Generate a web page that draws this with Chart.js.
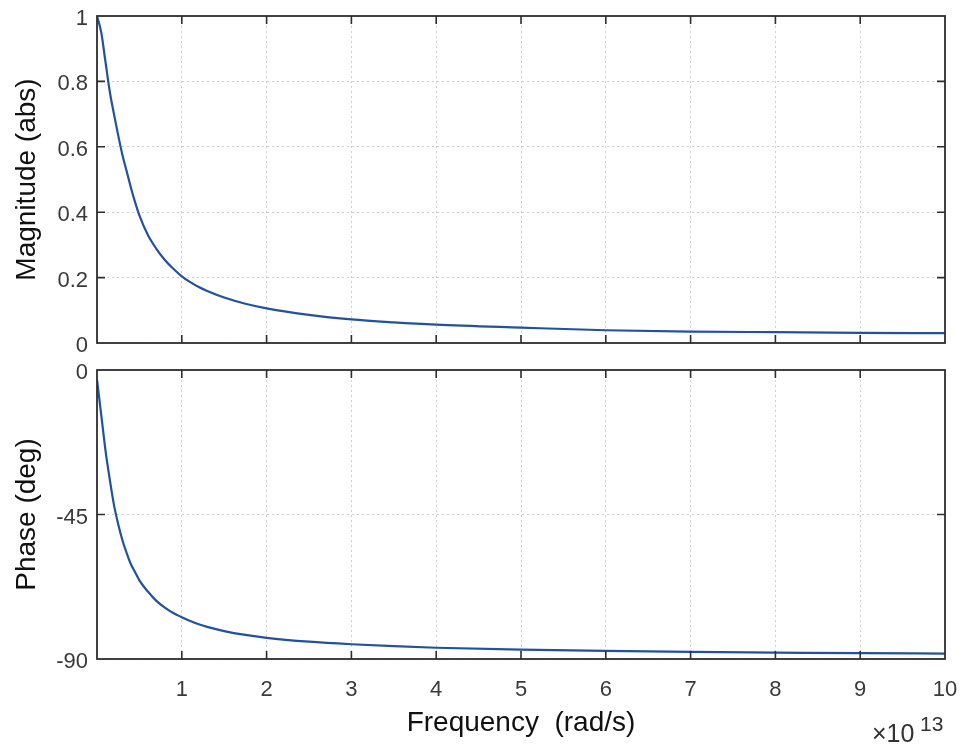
<!DOCTYPE html>
<html>
<head>
<meta charset="utf-8">
<script src="https://cdn.jsdelivr.net/npm/chart.js@4/dist/chart.umd.min.js"></script>
<style>
  html, body { margin: 0; padding: 0; background: #ffffff; }
  #wrap { position: relative; width: 969px; height: 750px; overflow: hidden; background: #fff; }
  #c1 { position: absolute; left: 0; top: 0; }
  #c2 { position: absolute; left: 0; top: 355px; }
  .ex { position: absolute; font-family: "Liberation Sans", Arial, sans-serif; color: #333; line-height: 1; white-space: nowrap; }
  #exBase { left: 872px; top: 721px; font-size: 25px; }
  #exPow { left: 920px; top: 713px; font-size: 21px; }
</style>
</head>
<body>
<div id="wrap">
  <canvas id="c1" width="969" height="355"></canvas>
  <canvas id="c2" width="969" height="395"></canvas>
  <div class="ex" id="exBase">×10</div>
  <div class="ex" id="exPow">13</div>
</div>
<script>
// Frequency in units of 1e13 rad/s
const frequency = [0, 0.05, 0.1, 0.15, 0.2, 0.25, 0.3, 0.35, 0.4, 0.45, 0.5, 0.6, 0.7, 0.8, 0.9, 1.0, 1.1, 1.2, 1.3, 1.5, 1.75, 2, 2.5, 3, 3.5, 4, 5, 6, 7, 8, 9, 10];
// Magnitude (abs)
const magnitude = [1.0, 0.95, 0.86, 0.77, 0.70, 0.635, 0.575, 0.525, 0.475, 0.43, 0.39, 0.33, 0.288, 0.254, 0.227, 0.204, 0.186, 0.171, 0.159, 0.139, 0.12, 0.106, 0.086, 0.072, 0.063, 0.056, 0.047, 0.039, 0.035, 0.033, 0.031, 0.030];
// Phase (deg)
const phase = [-3, -14, -25, -34, -42, -48, -53, -57, -60.5, -63, -65.5, -69, -71.9, -74, -75.7, -77, -78.2, -79.2, -80, -81.3, -82.5, -83.4, -84.6, -85.4, -86, -86.5, -87.1, -87.5, -87.8, -88.0, -88.2, -88.3];
const xTickLabels = ['1', '2', '3', '4', '5', '6', '7', '8', '9', '10'];
const magTicks = [0, 0.2, 0.4, 0.6, 0.8, 1];
const phaseTicks = [-90, -45, 0];

const FONT = '"Liberation Sans", Arial, Helvetica, sans-serif';
const LINE = '#2151a0';
const GRID = '#cfcfcf';
const BOX = '#2e2e2e';

const boxPlugin = {
  id: 'boxTicks',
  afterDatasetsDraw(chart) {
    const { ctx, chartArea: a, scales } = chart;
    ctx.save();
    ctx.strokeStyle = BOX;
    ctx.lineWidth = 1.6;
    ctx.beginPath();
    scales.x.ticks.forEach(t => {
      const px = scales.x.getPixelForValue(t.value);
      if (px <= a.left + 1 || px >= a.right - 1) return;
      ctx.moveTo(px, a.bottom); ctx.lineTo(px, a.bottom - 8);
      ctx.moveTo(px, a.top); ctx.lineTo(px, a.top + 8);
    });
    scales.y.ticks.forEach(t => {
      const py = scales.y.getPixelForValue(t.value);
      if (py <= a.top + 1 || py >= a.bottom - 1) return;
      ctx.moveTo(a.left, py); ctx.lineTo(a.left + 8, py);
      ctx.moveTo(a.right, py); ctx.lineTo(a.right - 8, py);
    });
    ctx.stroke();
    ctx.lineWidth = 1.8;
    ctx.strokeRect(a.left, a.top, a.right - a.left, a.bottom - a.top);
    ctx.restore();
  }
};

function makeData(ys) {
  return frequency.map((f, i) => ({ x: f, y: ys[i] }));
}

function xScale(showLabels, axisHeight) {
  return {
    type: 'linear', min: 0, max: 10,
    afterBuildTicks: (s) => { s.ticks = [0].concat(xTickLabels.map(Number)).map(v => ({ value: v })); },
    ticks: {
      display: showLabels,
      padding: 18,
      font: { family: FONT, size: 22 },
      color: '#3a3a3a',
      callback: (v) => (v === 0 ? '' : xTickLabels[v - 1])
    },
    grid: { color: GRID, lineWidth: 1, drawTicks: false },
    border: { display: false, dash: [2, 3] },
    title: showLabels ? {
      display: true, text: 'Frequency  (rad/s)',
      font: { family: FONT, size: 28 }, color: '#111',
      padding: { top: 0, bottom: 10 }
    } : { display: false },
    afterFit: (s) => { s.height = axisHeight; s.paddingLeft = 0; s.paddingRight = 0; }
  };
}

function yScale(min, max, ticks, title) {
  return {
    type: 'linear', min: min, max: max,
    afterBuildTicks: (s) => { s.ticks = ticks.map(v => ({ value: v })); },
    ticks: {
      padding: 9,
      labelOffset: 3,
      font: { family: FONT, size: 22 },
      color: '#3a3a3a',
      callback: (v) => String(v)
    },
    grid: { color: GRID, lineWidth: 1, drawTicks: false },
    border: { display: false, dash: [2, 3] },
    title: {
      display: true, text: title,
      font: { family: FONT, size: 28 }, color: '#111',
      padding: { top: 10, bottom: 0 }
    },
    afterFit: (s) => { s.width = 97; s.paddingTop = 0; s.paddingBottom = 0; }
  };
}

function makeChart(id, ys, yopts, xopts, padTop) {
  return new Chart(document.getElementById(id), {
    type: 'line',
    data: {
      datasets: [{
        data: makeData(ys),
        borderColor: LINE,
        borderWidth: 2.2,
        pointRadius: 0,
        fill: false,
        cubicInterpolationMode: 'monotone'
      }]
    },
    options: {
      responsive: false,
      animation: false,
      devicePixelRatio: 1,
      layout: { padding: { left: 0, right: 24, top: padTop, bottom: 0 } },
      plugins: { legend: { display: false }, tooltip: { enabled: false } },
      scales: { x: xopts, y: yopts }
    },
    plugins: [boxPlugin]
  });
}

makeChart('c1', magnitude, yScale(0, 1, magTicks, 'Magnitude (abs)'), xScale(false, 12), 16);
makeChart('c2', phase, yScale(-90, 0, phaseTicks, 'Phase (deg)'), xScale(true, 91), 15);
</script>
</body>
</html>
